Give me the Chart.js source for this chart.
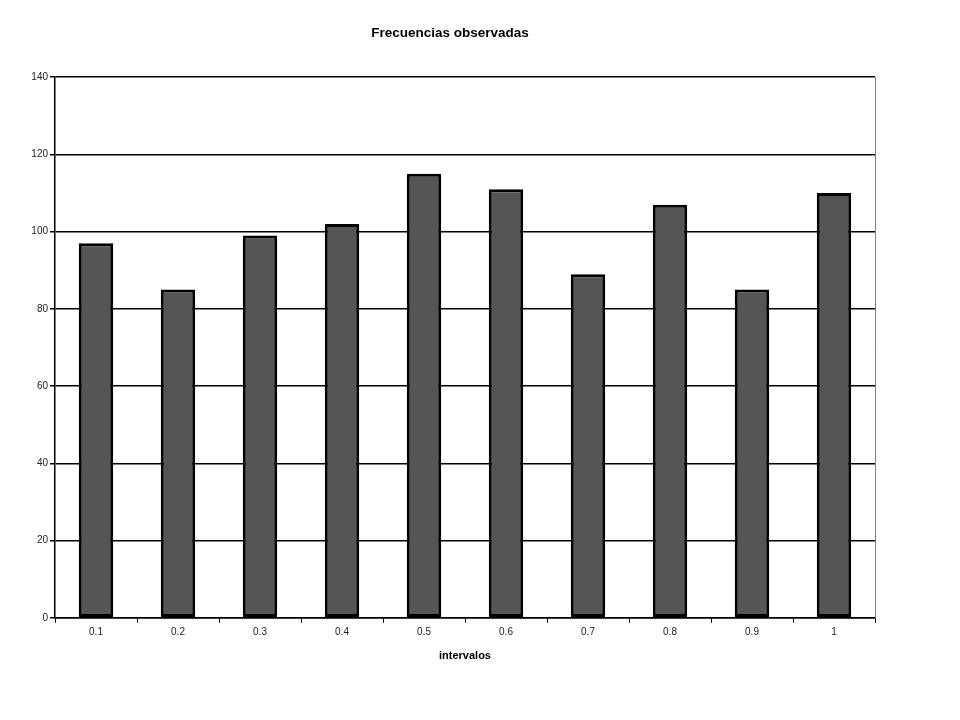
<!DOCTYPE html>
<html>
<head>
<meta charset="utf-8">
<script src="https://cdn.jsdelivr.net/npm/chart.js@4"></script>
<style>
html,body{margin:0;padding:0;background:#fff;}
#wrap{width:960px;height:720px;}
</style>
</head>
<body>
<div id="wrap"><canvas id="c" width="960" height="720"></canvas></div>
<script>
const categories = ["0.1","0.2","0.3","0.4","0.5","0.6","0.7","0.8","0.9","1"];
const frecuencias = [97, 85, 99, 102, 115, 111, 89, 107, 85, 110];
const yTicks = [0, 20, 40, 60, 80, 100, 120, 140];
const chartTitle = "Frecuencias observadas";
const xTitle = "intervalos";

const rightBorder = {
  id: 'rightBorder',
  afterDraw(chart) {
    const {ctx, chartArea} = chart;
    ctx.save();
    ctx.strokeStyle = '#808080';
    ctx.lineWidth = 1;
    ctx.beginPath();
    ctx.moveTo(Math.round(chartArea.right) + 0.5, chartArea.top);
    ctx.lineTo(Math.round(chartArea.right) + 0.5, chartArea.bottom);
    ctx.stroke();
    ctx.restore();
  }
};

new Chart(document.getElementById('c'), {
  type: 'bar',
  data: {
    labels: categories,
    datasets: [{
      data: frecuencias,
      backgroundColor: '#555555',
      borderColor: '#000000',
      borderWidth: 3,
      borderSkipped: false,
      categoryPercentage: 1.0,
      barPercentage: 0.42
    }]
  },
  options: {
    responsive: false,
    animation: false,
    layout: { padding: { left: 25, right: 85, top: 0, bottom: 57 } },
    plugins: {
      legend: { display: false },
      tooltip: { enabled: false },
      title: {
        display: true,
        text: chartTitle,
        color: '#000',
        font: { family: 'Liberation Sans', size: 13.5, weight: 'bold' },
        padding: { top: 25, bottom: 36 }
      }
    },
    scales: {
      x: {
        offset: true,
        grid: { display: true, drawOnChartArea: false, drawTicks: true, tickLength: 5, offset: true, color: '#000' },
        border: { display: true, color: '#000', width: 1.5 },
        ticks: { color: '#222', font: { family: 'Liberation Sans', size: 10 }, padding: 3 },
        title: {
          display: true, text: xTitle, color: '#000',
          font: { family: 'Liberation Sans', size: 11, weight: 'bold' },
          padding: { top: 9, bottom: 0 }
        }
      },
      y: {
        min: 0, max: 140,
        afterBuildTicks(scale) { scale.ticks = yTicks.map(v => ({ value: v })); },
        afterFit(scale) { scale.width = 30; },
        grid: { color: '#000', lineWidth: 1.5, tickLength: 5, drawTicks: true },
        border: { display: true, color: '#000', width: 1.5 },
        ticks: { color: '#222', font: { family: 'Liberation Sans', size: 10 }, padding: 2 }
      }
    }
  },
  plugins: [rightBorder]
});
</script>
</body>
</html>
